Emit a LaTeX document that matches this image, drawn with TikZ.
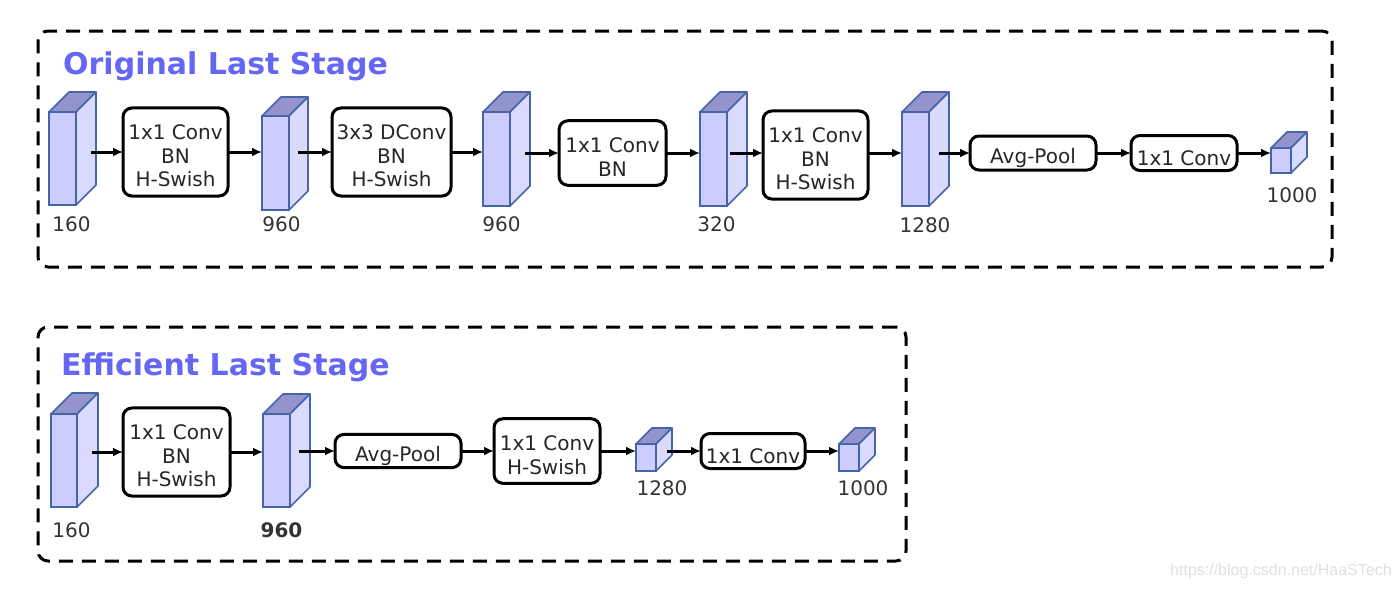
\documentclass[tikz,border=0pt]{standalone}
\usepackage{fontspec}
\setmainfont{DejaVu Sans}
\newfontfamily\wmfont{Liberation Sans}
\usetikzlibrary{arrows.meta}
\definecolor{titleblue}{RGB}{102,102,245}
\definecolor{cubefill}{RGB}{204,204,255}
\definecolor{cubeside}{RGB}{218,218,255}
\definecolor{cubetopc}{RGB}{148,148,204}
\definecolor{cubeline}{RGB}{70,100,170}
\tikzset{
  stagebox/.style={draw=black, line width=3pt, dash pattern=on 14pt off 9pt, rounded corners=10pt, anchor=north west, inner sep=0pt, outer sep=0pt},
  layer/.style={draw=black, line width=3pt, rounded corners=9pt, fill=white, font=\fontsize{20}{23.5}\selectfont, text=black!85, inner sep=2pt, outer sep=0pt},
  layerone/.style={layer, execute at begin node={\rule{0pt}{25pt}}},
  cubefront/.style={draw=cubeline, line width=1.6pt, fill=cubefill, inner sep=0pt, outer sep=0pt, anchor=north west},
  cubeface/.style={draw=cubeline, line width=1.6pt, line join=round},
  dimlabel/.style={font=\fontsize{20}{24}\selectfont, text=black!80, inner sep=0pt},
  stagetitle/.style={font=\bfseries\fontsize{30}{36}\selectfont, text=titleblue, anchor=base west, inner sep=0pt},
  arr/.style={-{Latex[length=10pt,width=9pt]}, line width=3pt},
}
\newcommand{\ltext}[1]{\begin{tabular}{@{}c@{}}\rule{0pt}{30pt}#1\end{tabular}}
\newcommand{\cubeblock}[6]{%
  \node[cubefront, minimum width=#4, minimum height=#5] (#1) at (#2,#3) {};
  \draw[cubeface, fill=cubetopc] (#1.north west) -- ++(#6,-#6) -- ([shift={(#6,-#6)}]#1.north east) -- (#1.north east) -- cycle;
  \draw[cubeface, fill=cubeside] (#1.north east) -- ++(#6,-#6) -- ([shift={(#6,-#6)}]#1.south east) -- (#1.south east) -- cycle;
}
\begin{document}
\begin{tikzpicture}[x=1pt,y=-1pt]
\useasboundingbox (0,0) rectangle (1400,589);
% stage frames
\node[stagebox, minimum width=1294, minimum height=236] (stageA) at (38,31) {};
\node[stagebox, minimum width=868, minimum height=234] (stageB) at (38,327) {};
\node[stagetitle] (titleA) at (63,74) {Original Last Stage};
\node[stagetitle] (titleB) at (61,375) {Efficient Last Stage};

% ---------- top row ----------
\cubeblock{a1}{49}{112}{27}{93}{20}
\cubeblock{a2}{262}{116}{27}{94}{19}
\cubeblock{a3}{483}{112}{27}{94}{20}
\cubeblock{a4}{700}{112}{27}{94}{20}
\cubeblock{a5}{902}{112}{27}{94}{20}
\cubeblock{a6}{1271}{148}{20}{25}{16}

\node[layer, minimum width=105, minimum height=87] (ab1) at (175.5,152) {\ltext{1x1 Conv\\BN\\H-Swish}};
\node[layer, minimum width=119, minimum height=87] (ab2) at (391.5,152) {\ltext{3x3 DConv\\BN\\H-Swish}};
\node[layer, minimum width=107, minimum height=61] (ab3) at (612.5,153) {\ltext{1x1 Conv\\BN}};
\node[layer, minimum width=105, minimum height=86] (ab4) at (815.5,155) {\ltext{1x1 Conv\\BN\\H-Swish}};
\node[layerone, minimum width=126, minimum height=34] (ab5) at (1033,153) {Avg-Pool};
\node[layerone, minimum width=106, minimum height=35] (ab6) at (1184,153) {1x1 Conv};

\node[dimlabel] (la1) at (71.5,224) {160};
\node[dimlabel] (la2) at (281.5,224) {960};
\node[dimlabel] (la3) at (501.5,224) {960};
\node[dimlabel] (la4) at (716.5,224) {320};
\node[dimlabel] (la5) at (925,225) {1280};
\node[dimlabel] (la6) at (1292,195) {1000};

\coordinate (a1o) at ([xshift=15pt]a1.east);
\coordinate (a2o) at ([xshift=9pt]a2.east);
\coordinate (a3o) at ([xshift=15pt]a3.east);
\coordinate (a4o) at ([xshift=3pt]a4.east);
\coordinate (a5o) at ([xshift=10pt]a5.east);

\draw[arr] (a1o |- ab1.west) -- (ab1.west);
\draw[arr] (ab1.east) -- (ab1.east -| a2.west);
\draw[arr] (a2o |- ab2.west) -- (ab2.west);
\draw[arr] (ab2.east) -- (ab2.east -| a3.west);
\draw[arr] (a3o |- ab3.west) -- (ab3.west);
\draw[arr] (ab3.east) -- (ab3.east -| a4.west);
\draw[arr] (a4o |- ab3.east) -- (ab3.east -| ab4.west);
\draw[arr] (ab4.east |- ab3.east) -- (ab3.east -| a5.west);
\draw[arr] (a5o |- ab5.west) -- (ab5.west);
\draw[arr] (ab5.east) -- (ab6.west);
\draw[arr] (ab6.east) -- (ab6.east -| a6.west);

% ---------- bottom row ----------
\cubeblock{b1}{51}{414}{26}{93}{21}
\cubeblock{b2}{263}{414}{27}{93}{20}
\cubeblock{b3}{636}{444}{20}{27}{16}
\cubeblock{b4}{839}{444}{20}{27}{16}

\node[layer, minimum width=107, minimum height=86] (bb1) at (176.5,452) {\ltext{1x1 Conv\\BN\\H-Swish}};
\node[layerone, minimum width=126, minimum height=31] (bb2) at (398,451) {Avg-Pool};
\node[layer, minimum width=106, minimum height=62] (bb3) at (547,451) {\ltext{1x1 Conv\\H-Swish}};
\node[layerone, minimum width=104, minimum height=35] (bb4) at (753,451) {1x1 Conv};

\node[dimlabel] (lb1) at (71.5,530) {160};
\node[dimlabel, font=\bfseries\fontsize{20}{24}\selectfont] (lb2) at (281.5,530) {960};
\node[dimlabel] (lb3) at (662,488) {1280};
\node[dimlabel] (lb4) at (863,488) {1000};

\coordinate (b1o) at ([xshift=15pt]b1.east);
\coordinate (b2o) at ([xshift=9pt]b2.east);
\coordinate (b3o) at ([xshift=11pt]b3.east);

\draw[arr] (b1o |- bb1.west) -- (bb1.west);
\draw[arr] (bb1.east) -- (bb1.east -| b2.west);
\draw[arr] (b2o |- bb2.west) -- (bb2.west);
\draw[arr] (bb2.east) -- (bb3.west);
\draw[arr] (bb3.east) -- (bb3.east -| b3.west);
\draw[arr] (b3o |- bb4.west) -- (bb4.west);
\draw[arr] (bb4.east) -- (bb4.east -| b4.west);

\node[font=\wmfont\fontsize{16}{18}\selectfont, text=black!12, anchor=west, inner sep=0pt] (wm) at (1170,571) {https://blog.csdn.net/HaaSTech};
\end{tikzpicture}
\end{document}
